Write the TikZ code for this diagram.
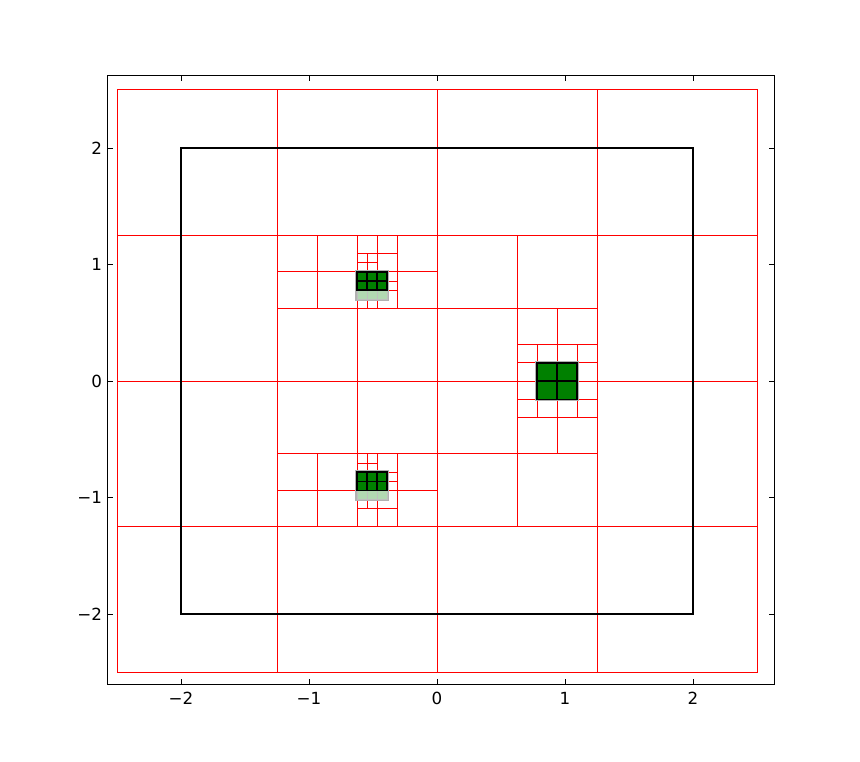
\documentclass[tikz,border=0pt]{standalone}
\usepackage{fontspec}
\setmainfont{DejaVu Sans}
\definecolor{mplgreen}{RGB}{0,128,0}
\definecolor{lightgr}{RGB}{178,217,178}
\begin{document}
\begin{tikzpicture}[x=1pt,y=1pt,
  tree/.style={red, line width=0.9pt},
  halo/.style={draw=black!30, line width=3.5pt},
  cellg/.style={fill=mplgreen, draw=black, line width=1.4pt},
  celll/.style={fill=lightgr, draw=black!25, line width=0.6pt},
  tickmark/.style={black, line width=0.8pt},
  ticklab/.style={font=\fontsize{16.7}{18}\selectfont, inner sep=0pt}]
\fill[white] (0,0) rectangle (860,761);
\useasboundingbox (0,0) rectangle (860,761);
\begin{scope}[shift={(437.0,379.9)}, x=128pt, y=116.5pt]
  % quadtree
  \draw[tree] (-2.5,-2.5) rectangle (2.5,2.5);
  \foreach \v in {-1.25,0,1.25} {
    \draw[tree] (\v,-2.5) -- (\v,2.5);
    \draw[tree] (-2.5,\v) -- (2.5,\v);
  }
  \foreach \xx/\ya/\yb in {-0.625/-1.25/1.25, 0.625/-1.25/1.25,
      -0.9375/0.625/1.25, -0.3125/0.625/1.25, -0.9375/-1.25/-0.625, -0.3125/-1.25/-0.625,
      0.9375/-0.625/0.625,
      -0.46875/0.625/1.25, -0.46875/-1.25/-0.625,
      0.78125/-0.3125/0.3125, 1.09375/-0.3125/0.3125,
      -0.546875/0.625/1.09375, -0.390625/0.78125/0.9375,
      -0.546875/-1.09375/-0.625, -0.390625/-0.9375/-0.78125}
    \draw[tree] (\xx,\ya) -- (\xx,\yb);
  \foreach \yy/\xa/\xb in {0.625/-1.25/1.25, -0.625/-1.25/1.25,
      0.9375/-1.25/0, -0.9375/-1.25/0,
      0.3125/0.625/1.25, -0.3125/0.625/1.25,
      1.09375/-0.625/-0.3125, 0.78125/-0.625/-0.3125,
      -1.09375/-0.625/-0.3125, -0.78125/-0.625/-0.3125,
      0.15625/0.625/1.25, -0.15625/0.625/1.25,
      1.015625/-0.625/-0.46875, 0.859375/-0.625/-0.3125, 0.703125/-0.625/-0.46875,
      -1.015625/-0.625/-0.46875, -0.859375/-0.625/-0.3125, -0.703125/-0.625/-0.46875}
    \draw[tree] (\xa,\yy) -- (\xb,\yy);
  % halos
  \draw[halo] (-0.625,0.703125) rectangle (-0.390625,0.9375);
  \draw[halo] (-0.625,-1.015625) rectangle (-0.390625,-0.78125);
  \draw[halo] (0.78125,-0.15625) rectangle (1.09375,0.15625);
  % light green cells
  \foreach \i in {0,1,2} {
    \draw[celll] ({-0.625+\i*0.078125},0.703125) rectangle ++(0.078125,0.078125);
    \draw[celll] ({-0.625+\i*0.078125},-1.015625) rectangle ++(0.078125,0.078125);
  }
  % green cells
  \foreach \i in {0,1,2} \foreach \j in {0,1} {
    \draw[cellg] ({-0.625+\i*0.078125},{0.78125+\j*0.078125}) rectangle ++(0.078125,0.078125);
    \draw[cellg] ({-0.625+\i*0.078125},{-0.9375+\j*0.078125}) rectangle ++(0.078125,0.078125);
  }
  \foreach \i in {0,1} \foreach \j in {0,1}
    \draw[cellg] ({0.78125+\i*0.15625},{-0.15625+\j*0.15625}) rectangle ++(0.15625,0.15625);
  % domain
  \draw[black, line width=2.6pt] (-2,-2) rectangle (2,2);
\end{scope}
% axes frame
\coordinate (ll) at (107.5,76.3);
\coordinate (ur) at (774.3,685.3);
\draw[black, line width=1.2pt] (ll) rectangle (ur);
\foreach \k/\lab in {-2/−2,-1/−1,0/0,1/1,2/2} {
  \pgfmathsetmacro{\px}{437.0+128*\k}
  \pgfmathsetmacro{\py}{379.9+116.5*\k}
  \draw[tickmark] (\px,76.3) -- ++(0,5.6);
  \draw[tickmark] (\px,685.3) -- ++(0,-5.6);
  \draw[tickmark] (107.5,\py) -- ++(5.6,0);
  \draw[tickmark] (774.3,\py) -- ++(-5.6,0);
  \node[ticklab, anchor=base] (xl\k) at (\px,56.3) {\lab};
  \node[ticklab, anchor=base east] (yl\k) at (102.3,{\py-6}) {\lab};
}
\end{tikzpicture}
\end{document}
